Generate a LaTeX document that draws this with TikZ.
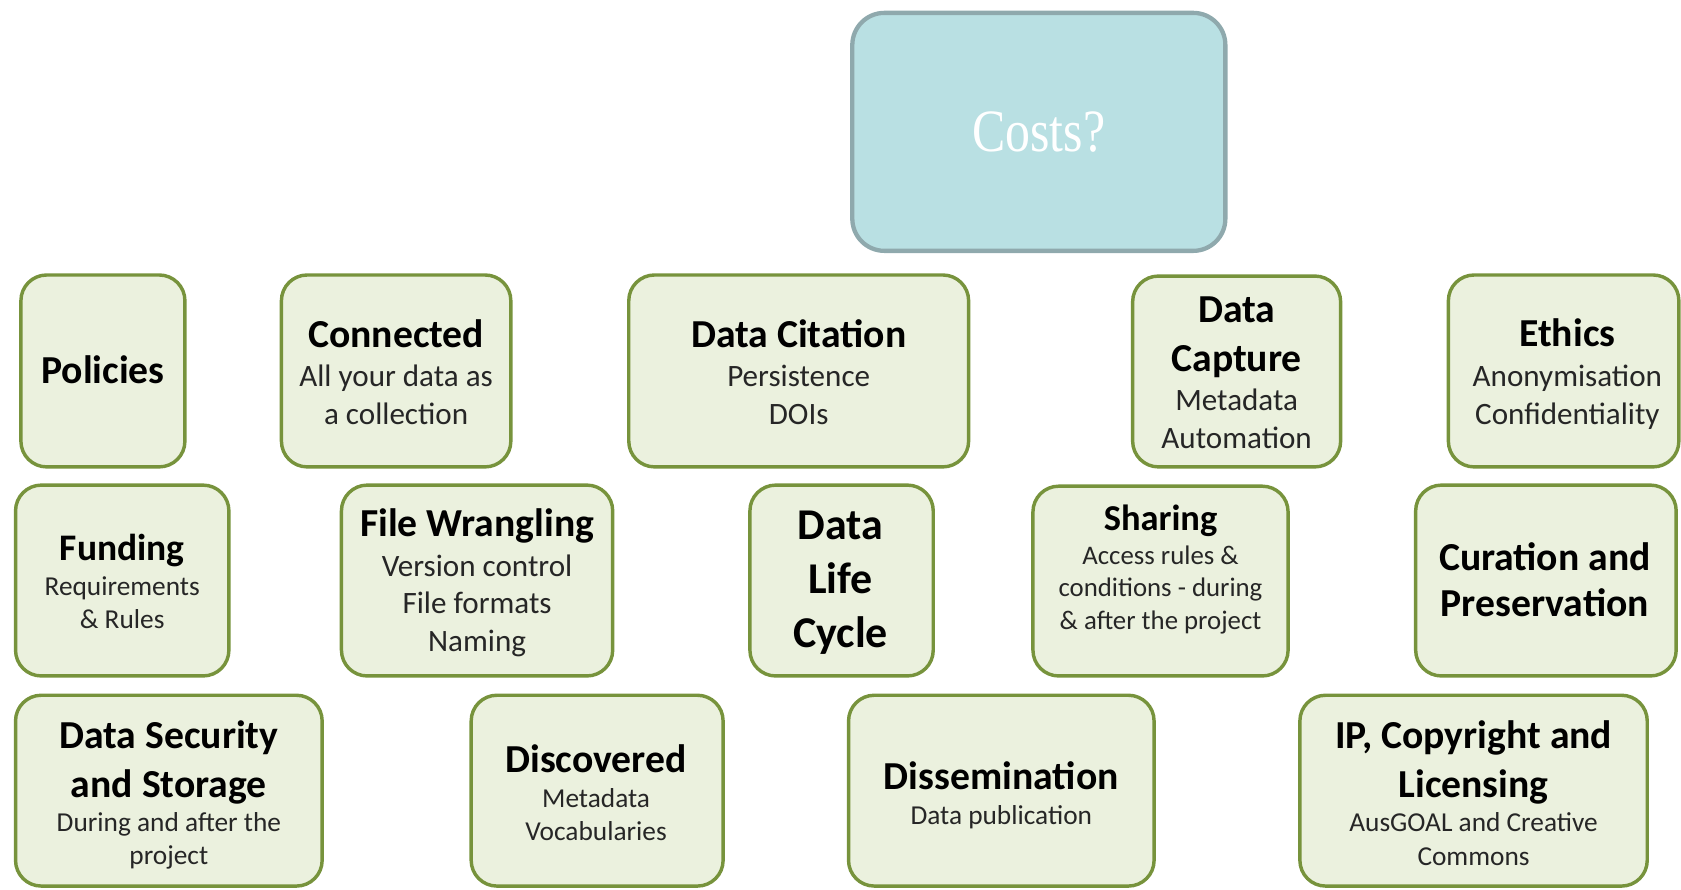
\documentclass[tikz,border=0pt]{standalone}
\usepackage{graphicx}
\usepackage{fontspec}
\setmainfont{Carlito}
\newfontfamily\costsfont{Liberation Serif}
\definecolor{topicline}{HTML}{77933C}
\definecolor{topicfill}{HTML}{EBF1DE}
\definecolor{costline}{HTML}{8FA9AD}
\definecolor{costfill}{HTML}{B9E0E3}
\definecolor{subtext}{HTML}{262626}
% heading text in a given size (default 37pt)
\newcommand\headtxt[2][37]{{\fontsize{#1}{#1}\selectfont\bfseries\color{black}#2}}
\begin{document}
\begin{tikzpicture}[x=1pt,y=-1pt,
  topic/.style={draw=topicline,fill=topicfill,line width=3.2pt,rounded corners=24pt,inner sep=0pt},
  boxtext/.style={align=center,text=subtext,inner sep=0pt},
  bigsub/.style={boxtext,font=\fontsize{29}{35}\selectfont},
  smallsub/.style={boxtext,font=\fontsize{25.5}{31}\selectfont},
  costbox/.style={draw=costline,fill=costfill,line width=4pt,rounded corners=30pt,
    inner sep=0pt,text=white,font=\costsfont\fontsize{56}{56}\selectfont}]
\useasboundingbox (0,0) rectangle (1568,830);

% central question
\node[costbox,minimum width=348pt,minimum height=222pt] (costs) at (969,123)
  {\scalebox{0.83}[1]{Costs?}};

% first row: boxes
\node[topic,minimum width=153pt,minimum height=179pt] (policies)  at (96,346) {};
\node[topic,minimum width=214pt,minimum height=179pt] (connected) at (369.5,346) {};
\node[topic,minimum width=317pt,minimum height=179pt] (citation)  at (745,346) {};
\node[topic,minimum width=194pt,minimum height=178pt] (capture)   at (1153.5,346.5) {};
\node[topic,minimum width=215pt,minimum height=179pt] (ethics)    at (1458.5,346) {};
% first row: texts
\node[bigsub] (policiestext) at ([yshift=1pt]policies.center) {\headtxt{Policies}};
\node[bigsub] (connectedtext) at ([yshift=-1pt]connected.center)
  {\headtxt{Connected}\\[2pt]All your data as\\a collection};
\node[bigsub] (citationtext) at ([yshift=-1pt]citation.center)
  {\headtxt{Data Citation}\\[2pt]Persistence\\DOIs};
\node[bigsub] (capturetext) at ([yshift=-1pt]capture.center)
  {\headtxt{Data}\\[11pt]\headtxt{Capture}\\[1pt]Metadata\\Automation};
\node[bigsub] (ethicstext) at ([xshift=3.5pt,yshift=-3pt]ethics.center)
  {\headtxt{Ethics}\\[2pt]Anonymisation\\Confidentiality};

% second row: boxes
\node[topic,minimum width=199pt,minimum height=178pt] (funding)   at (114,541.5) {};
\node[topic,minimum width=253pt,minimum height=178pt] (wrangling) at (445,541.5) {};
\node[topic,minimum width=171pt,minimum height=178pt] (lifecycle) at (785,541.5) {};
\node[topic,minimum width=238pt,minimum height=177pt] (sharing)   at (1082.5,542) {};
\node[topic,minimum width=243pt,minimum height=178pt] (curation)  at (1442,541.5) {};
% second row: texts
\node[smallsub] (fundingtext) at ([yshift=-1pt]funding.center)
  {\headtxt[35]{Funding}\\[1pt]Requirements\\\&~Rules};
\node[bigsub] (wranglingtext) at ([yshift=-2pt]wrangling.center)
  {\headtxt{File Wrangling}\\[2pt]Version control\\File formats\\Naming};
\node[boxtext,font=\fontsize{41}{50}\selectfont] (lifecycletext) at ([xshift=-1pt,yshift=-2pt]lifecycle.center)
  {\headtxt[41]{Data}\\\headtxt[41]{Life}\\\headtxt[41]{Cycle}};
\node[boxtext,font=\fontsize{25}{30}\selectfont] (sharingtext) at ([yshift=11pt]sharing.center)
  {\headtxt[34]{Sharing}\\[2pt]Access rules \&\\conditions - during\\\& after the project};
\node[boxtext,font=\fontsize{37}{43}\selectfont] (curationtext) at ([xshift=-1pt,yshift=1pt]curation.center)
  {\headtxt{Curation and}\\\headtxt{Preservation}};

% third row: boxes
\node[topic,minimum width=286pt,minimum height=178pt] (security)      at (157.5,737.5) {};
\node[topic,minimum width=235pt,minimum height=178pt] (discovered)    at (557,737.5) {};
\node[topic,minimum width=285pt,minimum height=178pt] (dissemination) at (934,737.5) {};
\node[topic,minimum width=324pt,minimum height=178pt] (licensing)     at (1374.5,737.5) {};
% third row: texts
\node[smallsub] (securitytext) at ([yshift=-4pt]security.center)
  {\headtxt{Data Security}\\[13pt]\headtxt{and Storage}\\During and after the\\project};
\node[smallsub] (discoveredtext) at ([xshift=-1pt,yshift=-2pt]discovered.center)
  {\headtxt{Discovered}\\[2pt]Metadata\\Vocabularies};
\node[smallsub] (disseminationtext) at ([yshift=-4pt]dissemination.center)
  {\headtxt{Dissemination}\\[2pt]Data publication};
\node[smallsub] (licensingtext) at ([yshift=-2pt]licensing.center)
  {\headtxt{IP, Copyright and}\\[13pt]\headtxt{Licensing}\\[1pt]AusGOAL and Creative\\Commons};
\end{tikzpicture}
\end{document}
